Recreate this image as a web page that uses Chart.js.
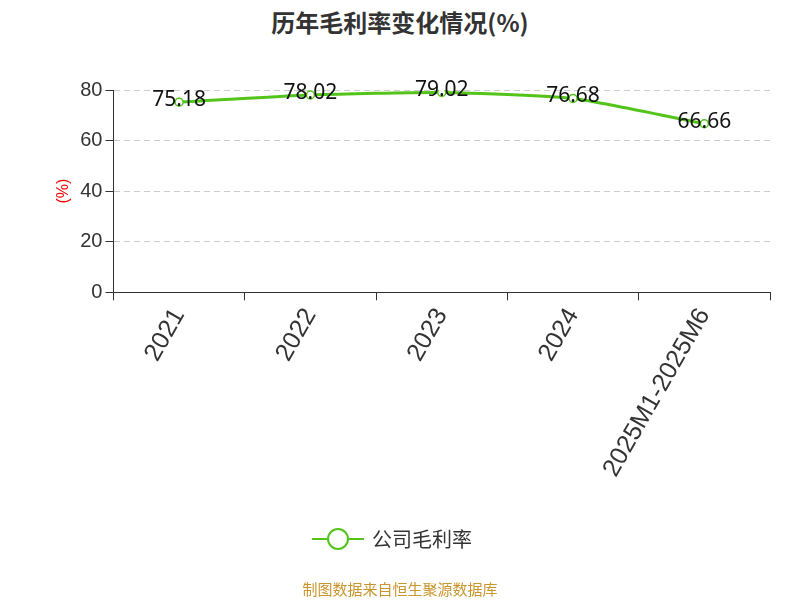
<!DOCTYPE html>
<html><head><meta charset="utf-8">
<script src="https://cdn.jsdelivr.net/npm/chart.js@4"></script>
<style>
body{margin:0;width:800px;height:600px;position:relative;background:#fff;font-family:"Noto Sans CJK SC","Noto Sans",sans-serif}
#t{position:absolute;top:4px;width:800px;text-align:center;font-size:24px;font-weight:bold;color:#333}
#lg{position:absolute;top:524px;left:312px;font-size:20px;color:#333;display:flex;align-items:center}
#src{position:absolute;top:578px;width:800px;text-align:center;font-size:15px;color:#c8962e}
canvas{position:absolute;left:0;top:0}
</style></head><body>
<div id="t">历年毛利率变化情况(%)</div>
<canvas id="c" width="800" height="600"></canvas>
<div id="lg"><svg width="52" height="26"><line x1="0" y1="13" x2="52" y2="13" stroke="#52c41a" stroke-width="2"/><circle cx="26" cy="13" r="10" fill="#fff" stroke="#52c41a" stroke-width="2"/></svg><span style="margin-left:8px">公司毛利率</span></div>
<div id="src">制图数据来自恒生聚源数据库</div>
<script>
const categories=["2021","2022","2023","2024","2025M1-2025M6"];
const values=[75.18,78.02,79.02,76.68,66.66];
const yTicks=[0,20,40,60,80];
const labelsPlugin={id:'lbl',afterDatasetsDraw(ch){const ctx=ch.ctx;const m=ch.getDatasetMeta(0);ctx.save();ctx.font='21px "Noto Sans","DejaVu Sans",sans-serif';ctx.fillStyle='#111';ctx.textAlign='center';ctx.textBaseline='middle';m.data.forEach((p,i)=>ctx.fillText(values[i].toFixed(2),p.x,p.y-2));ctx.restore();}};
new Chart(document.getElementById('c'),{type:'line',
data:{labels:categories,datasets:[{data:values,borderColor:'#52c41a',borderWidth:3,pointRadius:4,pointBackgroundColor:'#fff',pointBorderColor:'#52c41a',pointBorderWidth:1.5,tension:0.2}]},
options:{responsive:false,animation:false,layout:{padding:{top:90,bottom:115,left:50,right:30}},
plugins:{legend:{display:false},tooltip:{enabled:false}},
scales:{x:{offset:true,grid:{offset:true,display:true,drawOnChartArea:false,color:'#333',tickLength:8},border:{color:'#333'},ticks:{maxRotation:60,minRotation:60,color:'#333',font:{size:25}}},
y:{min:0,max:80,afterBuildTicks(a){a.ticks=yTicks.map(v=>({value:v}))},grid:{color:'#ccc',tickLength:8,tickColor:'#333'},border:{display:true,color:'#333',dash:[6,4]},ticks:{color:'#333',font:{size:20}},
title:{display:true,text:'(%)',color:'#e00',font:{size:16}}}}},
plugins:[labelsPlugin]});
</script></body></html>
